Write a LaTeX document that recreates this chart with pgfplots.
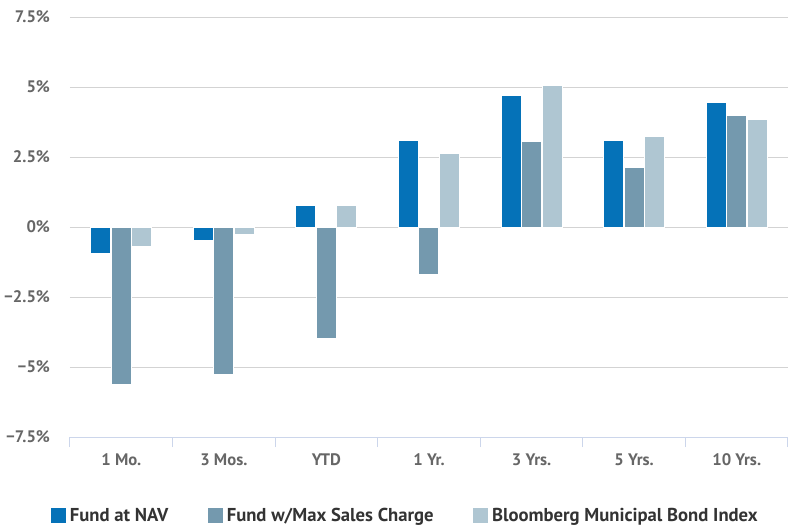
\documentclass[border=0pt]{standalone}
\usepackage{pgfplots}
\pgfplotsset{compat=1.18}
\usepackage{fontspec}
\setmainfont{PT Sans}
\definecolor{nav}{HTML}{0572B8}
\definecolor{salescharge}{HTML}{7499AE}
\definecolor{bbindex}{HTML}{AFC6D2}
\definecolor{gridgray}{HTML}{D3D3D3}
\definecolor{axisline}{HTML}{CCD6EB}
\definecolor{ticktext}{HTML}{666666}
\definecolor{legtext}{HTML}{333333}
\begin{document}
\begin{tikzpicture}
\useasboundingbox (-52.5pt,-69pt) rectangle (538.5pt,327.75pt);
\begin{axis}[
  at={(0,0)}, anchor=south west, scale only axis,
  width=538.5pt, height=315pt,
  ybar=0.4pt, bar width=15pt,
  xmin=-0.5, xmax=6.5, ymin=-7.5, ymax=7.5,
  separate axis lines,
  axis x line*=bottom, x axis line style={draw=axisline, line width=0.75pt, -},
  axis y line*=left, y axis line style={draw=none},
  xtick={0,...,6},
  xticklabels={1 Mo.,3 Mos.,YTD,1 Yr.,3 Yrs.,5 Yrs.,10 Yrs.},
  major x tick style={draw=none},
  extra x ticks={-0.5,0.5,1.5,2.5,3.5,4.5,5.5,6.5},
  extra x tick labels={},
  extra x tick style={tick align=outside, major tick length=7.5pt,
    major x tick style={draw=axisline, line width=0.75pt}},
  ytick={-7.5,-5,-2.5,0,2.5,5,7.5},
  yticklabels={−7.5\%,−5\%,−2.5\%,0\%,2.5\%,5\%,7.5\%},
  ytick style={draw=none},
  ymajorgrids, grid style={gridgray, line width=0.75pt},
  tick label style={font=\fontsize{12.5}{15}\selectfont\bfseries, text=ticktext},
  xticklabel style={yshift=-5pt},
  yticklabel style={xshift=-11.5pt},
  legend style={at={(0.467,-0.188)}, anchor=center, draw=none, fill=none,
    legend columns=-1, font=\fontsize{14}{16}\selectfont\bfseries, text=legtext,
    /tikz/every even column/.append style={column sep=27pt}},
  legend image code/.code={\fill[#1] (0pt,-6pt) rectangle (12pt,6pt);},
]
\addplot[fill=nav, draw=white, line width=0.75pt] coordinates {
  (0,-0.93) (1,-0.49) (2,0.76) (3,3.10) (4,4.71) (5,3.10) (6,4.46)
};
\addplot[fill=salescharge, draw=white, line width=0.75pt] coordinates {
  (0,-5.62) (1,-5.25) (2,-3.98) (3,-1.68) (4,3.07) (5,2.14) (6,3.98)
};
\addplot[fill=bbindex, draw=white, line width=0.75pt] coordinates {
  (0,-0.69) (1,-0.25) (2,0.76) (3,2.61) (4,5.05) (5,3.25) (6,3.83)
};
\legend{Fund at NAV, Fund w/Max Sales Charge, Bloomberg Municipal Bond Index}
\end{axis}
\end{tikzpicture}
\end{document}
